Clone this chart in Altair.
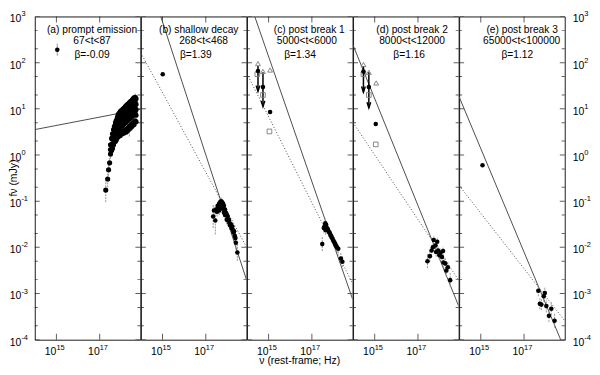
import altair as alt
import pandas as pd

FONT = "Liberation Sans"
INK = "#000000"
FRAME = "#1a1a1a"
LINE = "#4d4d4d"
ERRC = "#8a8a8a"
OPEN = "#7a7a7a"

W = 106.5
H = 326

# ---------------- axes ----------------
X_DOMAIN = [1e14, 10 ** 18.88]
Y_DOMAIN = [1e-4, 1e3]
X_TICKS = [1e15, 1e17]
X_TICK_BASE = ["10", "10"]
X_TICK_EXP = ["15", "17"]
Y_TICKS = [1e-4, 1e-3, 1e-2, 1e-1, 1e0, 1e1, 1e2, 1e3]
Y_TICK_BASE = ["10", "10", "10", "10", "10", "10", "10", "10"]
Y_TICK_EXP = ["-4", "-3", "-2", "-1", "0", "1", "2", "3"]
Y_MINOR = [2e-4, 5e-4, 2e-3, 5e-3, 2e-2, 5e-2, 0.2, 0.5, 2, 5, 20, 50, 200, 500]
X_TITLE = "ν (rest-frame; Hz)"
Y_TITLE = "fν (mJy)"

# ---------------- panel texts ----------------
PANEL_NAME = ["(a) prompt emission", "(b) shallow decay", "(c) post break 1",
              "(d) post break 2", "(e) post break 3"]
PANEL_TIME = ["67<t<87", "268<t<468", "5000<t<6000", "8000<t<12000", "65000<t<100000"]
PANEL_BETA = ["β=-0.09", "β=1.39", "β=1.34", "β=1.16", "β=1.12"]

# ---------------- model lines (log10 nu, log10 f) ----------------
SOLID_NU = [[14.0, 18.88], [14.92, 18.88], [14.36, 18.88], [14.0, 18.88], [14.0, 18.88]]
SOLID_F = [[0.55, 0.99], [3.0, -2.70], [3.0, -3.12], [2.38, -3.27], [1.26, -4.21]]
DOTTED_NU = [[], [14.0, 18.88], [14.0, 18.88], [14.0, 18.88], [14.0, 18.88]]
DOTTED_F = [[], [2.21, -1.99], [1.76, -2.78], [0.70, -2.71], [-0.66, -3.59]]

# ---------------- X-ray points (log10 nu, log10 f) ----------------
XA_NU = [17.28, 17.37, 17.41, 17.46,
         17.50, 17.50, 17.50,
         17.55, 17.55, 17.55,
         17.59, 17.59, 17.59, 17.59,
         17.64, 17.64, 17.64, 17.64,
         17.68, 17.68, 17.68, 17.68,
         17.73, 17.73, 17.73, 17.73, 17.73,
         17.77, 17.77, 17.77, 17.77, 17.77,
         17.82, 17.82, 17.82, 17.82, 17.82,
         17.86, 17.86, 17.86, 17.86, 17.86,
         17.91, 17.91, 17.91, 17.91, 17.91,
         17.95, 17.95, 17.95, 17.95, 17.95,
         18.00, 18.00, 18.00, 18.00, 18.00,
         18.05, 18.05, 18.05, 18.05, 18.05,
         18.09, 18.09, 18.09, 18.09, 18.09,
         18.14, 18.14, 18.14, 18.14, 18.14,
         18.19, 18.19, 18.19, 18.19, 18.19,
         18.23, 18.23, 18.23, 18.23, 18.23,
         18.28, 18.28, 18.28, 18.28, 18.28,
         18.32, 18.32, 18.32, 18.32, 18.32,
         18.37, 18.37, 18.37, 18.37, 18.37,
         18.41, 18.41, 18.41, 18.41, 18.41,
         18.46, 18.46, 18.46, 18.46, 18.46,
         18.50, 18.50, 18.50, 18.50, 18.50,
         18.55, 18.55, 18.55, 18.55, 18.55,
         18.59, 18.59, 18.59, 18.59, 18.59,
         18.64, 18.64, 18.64, 18.64, 18.64,
         18.68, 18.68, 18.68, 18.68, 18.68]
XA_F = [-0.76, -0.52, -0.32, -0.17,
        0.22, 0.12, 0.02,
        0.36, 0.22, 0.10,
        0.46, 0.34, 0.22, 0.14,
        0.55, 0.44, 0.33, 0.22,
        0.62, 0.52, 0.40, 0.28,
        0.70, 0.60, 0.48, 0.36, 0.30,
        0.75, 0.65, 0.55, 0.44, 0.33,
        0.82, 0.72, 0.62, 0.50, 0.38,
        0.88, 0.78, 0.66, 0.55, 0.40,
        0.91, 0.80, 0.70, 0.58, 0.45,
        0.94, 0.84, 0.72, 0.60, 0.42,
        0.96, 0.86, 0.75, 0.62, 0.48,
        0.98, 0.88, 0.76, 0.64, 0.46,
        1.00, 0.90, 0.78, 0.66, 0.52,
        1.02, 0.92, 0.80, 0.68, 0.48,
        1.05, 0.94, 0.82, 0.70, 0.55,
        1.07, 0.96, 0.84, 0.72, 0.50,
        1.09, 0.98, 0.86, 0.74, 0.58,
        1.11, 1.00, 0.88, 0.76, 0.54,
        1.13, 1.02, 0.90, 0.78, 0.62,
        1.15, 1.04, 0.92, 0.80, 0.58,
        1.17, 1.06, 0.94, 0.82, 0.66,
        1.19, 1.08, 0.96, 0.84, 0.62,
        1.22, 1.10, 0.98, 0.86, 0.70,
        1.24, 1.12, 1.00, 0.88, 0.66,
        1.25, 1.14, 1.02, 0.90, 0.74,
        1.22, 1.10, 0.98, 0.86, 0.72]
# visible error bars of panel (a): nu, low, high
XA_EB_NU = [17.28, 17.37, 17.41, 17.46, 17.50, 18.64, 18.55, 18.37]
XA_EB_LO = [-1.02, -0.70, -0.45, -0.30, -0.08, 1.10, 1.05, 0.40]
XA_EB_HI = [-0.55, -0.38, -0.20, -0.05, 0.30, 1.33, 1.30, 1.20]

XB_NU = [17.34, 17.38, 17.44, 17.48, 17.52, 17.55, 17.58, 17.62, 17.62, 17.67, 17.67,
         17.71, 17.71, 17.74, 17.76, 17.80, 17.80, 17.84, 17.84, 17.89, 17.89, 17.93,
         17.97, 17.97, 18.01, 18.03, 18.07, 18.10, 18.12, 18.16, 18.19, 18.22, 18.25,
         18.28, 18.31, 18.34, 18.37, 18.39, 18.46]
XB_F = [-1.33, -1.20, -1.42, -1.18, -1.23, -1.10, -1.12, -1.05, -1.20, -1.02, -1.14,
        -1.00, -1.10, -1.02, -1.16, -1.05, -1.16, -1.10, -1.25, -1.18, -1.30, -1.25,
        -1.29, -1.40, -1.33, -1.42, -1.40, -1.48, -1.52, -1.50, -1.58, -1.55, -1.62,
        -1.68, -1.65, -1.75, -1.80, -1.90, -2.11]
XB_ERR = [0.25, 0.10, 0.30, 0.10, 0.10, 0.08, 0.08, 0.08, 0.10, 0.08, 0.08,
          0.08, 0.08, 0.08, 0.08, 0.08, 0.08, 0.08, 0.10, 0.08, 0.10, 0.08,
          0.08, 0.10, 0.08, 0.10, 0.10, 0.10, 0.10, 0.10, 0.10, 0.10, 0.10,
          0.12, 0.12, 0.12, 0.12, 0.15, 0.18]

XC_NU = [17.48, 17.55, 17.59, 17.62, 17.64, 17.66, 17.70, 17.74, 17.78, 17.82, 17.85,
         17.89, 17.92, 17.96, 18.00, 18.04, 18.08, 18.11, 18.16, 18.22, 18.34, 18.41]
XC_F = [-1.93, -1.58, -1.54, -1.48, -1.63, -1.51, -1.58, -1.61, -1.66, -1.68, -1.72,
        -1.75, -1.78, -1.82, -1.86, -1.89, -1.93, -1.96, -2.00, -2.03, -2.24, -2.31]
XC_ERR = [0.15, 0.10, 0.10, 0.10, 0.10, 0.08, 0.08, 0.08, 0.08, 0.08, 0.08,
          0.08, 0.08, 0.08, 0.08, 0.10, 0.10, 0.10, 0.10, 0.10, 0.12, 0.12]

XD_NU = [17.44, 17.55, 17.63, 17.69, 17.73, 17.89, 17.81, 17.84, 17.93, 17.99, 18.04,
         18.11, 18.16, 18.18, 18.26, 18.31, 18.38, 18.49]
XD_F = [-2.30, -2.19, -2.07, -2.00, -1.84, -1.88, -1.96, -2.10, -2.07, -2.17, -2.12,
        -2.21, -2.08, -2.33, -2.35, -2.50, -2.43, -2.71]
XD_ERR = [0.15, 0.12, 0.12, 0.10, 0.10, 0.10, 0.10, 0.10, 0.10, 0.10, 0.10,
          0.12, 0.10, 0.12, 0.12, 0.14, 0.12, 0.15]

XE_NU = [17.66, 17.73, 17.80, 17.91, 17.96, 18.03, 18.15, 18.26, 18.41]
XE_F = [-2.94, -3.22, -3.24, -3.06, -2.99, -3.27, -3.48, -3.33, -3.59]
XE_ERR = [0.12, 0.12, 0.12, 0.12, 0.12, 0.14, 0.14, 0.14, 0.15]

XR_NU = [XA_NU, XB_NU, XC_NU, XD_NU, XE_NU]
XR_F = [XA_F, XB_F, XC_F, XD_F, XE_F]
XR_ERR = [[], XB_ERR, XC_ERR, XD_ERR, XE_ERR]

# legend key of panel (a): point with error bar
KEY_NU = [15.04]
KEY_F = [2.28]
KEY_ERR = [0.13]

# ---------------- optical / UV points ----------------
CIRC_NU = [[], [15.01], [14.51, 14.74, 15.07], [14.48, 14.73, 15.05], [15.08]]
CIRC_F = [[], [1.75], [1.82, 1.47, 0.93], [1.81, 1.47, 0.67], [-0.22]]
TRI_NU = [[], [], [14.51, 14.74, 15.07], [14.48, 14.73, 15.07], []]
TRI_F = [[], [], [1.98, 1.81, 1.84], [1.96, 1.79, 1.56], []]
SQ_NU = [[], [], [14.48, 14.74, 15.04], [14.48, 14.73, 15.05], []]
SQ_F = [[], [], [1.75, 1.30, 0.51], [1.75, 1.30, 0.23], []]
UL_NU = [[], [], [14.51, 14.74], [14.48, 14.73], []]
UL_TOP = [[], [], [1.93, 1.79], [1.93, 1.79], []]
UL_BOT = [[], [], [1.38, 1.05], [1.36, 1.02], []]

# ---------------- layout of panel texts (pixels, reference scale) ----------------
REF_W, REF_H = 108.4, 333.0
TEXT_X = [[58.8, 58.8, 58.8], [59.4, 64.4, 56.4], [64.0, 61.5, 54.5],
          [60.6, 60.6, 57.6], [64.7, 64.2, 59.7]]
TEXT_Y = [13.8, 25.2, 39.5]

xs = alt.Scale(type="log", domain=X_DOMAIN, nice=False)
ys = alt.Scale(type="log", domain=Y_DOMAIN, nice=False)
ONE = pd.DataFrame({"k": [0]})


def X(field):
    return alt.X(f"{field}:Q", scale=xs, axis=None)


def Y(field):
    return alt.Y(f"{field}:Q", scale=ys, axis=None)


def p10(vals):
    return [10.0 ** v for v in vals]


def txt(**kw):
    base = dict(font=FONT, color=INK)
    base.update(kw)
    return base


def panel(i):
    L = []
    # frame ticks (inward, both sides)
    ymaj = pd.DataFrame({"v": Y_TICKS, "base": Y_TICK_BASE, "exp": Y_TICK_EXP})
    ymin = pd.DataFrame({"v": Y_MINOR})
    for df, size in ((ymaj, 10), (ymin, 6)):
        for xpos in (0, W):
            L.append(alt.Chart(df).mark_tick(orient="horizontal", size=size, thickness=1,
                                             color=FRAME, clip=True)
                     .encode(y=Y("v"), x=alt.value(xpos)))
    xt = pd.DataFrame({"v": X_TICKS, "base": X_TICK_BASE, "exp": X_TICK_EXP})
    for ypos in (0, H):
        L.append(alt.Chart(xt).mark_tick(orient="vertical", size=12, thickness=1,
                                         color=FRAME, clip=True)
                 .encode(x=X("v"), y=alt.value(ypos)))

    # model lines
    sdf = pd.DataFrame({"nu": p10(SOLID_NU[i]), "f": p10(SOLID_F[i])})
    L.append(alt.Chart(sdf).mark_line(color=LINE, strokeWidth=1, clip=True)
             .encode(x=X("nu"), y=Y("f")))
    if DOTTED_NU[i]:
        ddf = pd.DataFrame({"nu": p10(DOTTED_NU[i]), "f": p10(DOTTED_F[i])})
        L.append(alt.Chart(ddf).mark_line(color=LINE, strokeWidth=1, strokeDash=[1, 2],
                                          clip=True)
                 .encode(x=X("nu"), y=Y("f")))

    # error bars
    if i == 0:
        eb = pd.DataFrame({"nu": p10(XA_EB_NU), "lo": p10(XA_EB_LO), "hi": p10(XA_EB_HI)})
    else:
        eb = pd.DataFrame({
            "nu": p10(XR_NU[i]),
            "lo": [10.0 ** (f - e) for f, e in zip(XR_F[i], XR_ERR[i])],
            "hi": [10.0 ** (f + e) for f, e in zip(XR_F[i], XR_ERR[i])],
        })
    L.append(alt.Chart(eb).mark_rule(color=ERRC, strokeWidth=0.9, strokeDash=[2, 1],
                                     clip=True)
             .encode(x=X("nu"), y=Y("lo"), y2="hi:Q"))

    # X-ray points
    xr = pd.DataFrame({"nu": p10(XR_NU[i]), "f": p10(XR_F[i])})
    L.append(alt.Chart(xr).mark_circle(color=INK, size=27 if i == 0 else 21, opacity=1,
                                       clip=True)
             .encode(x=X("nu"), y=Y("f")))

    if i == 0:
        kdf = pd.DataFrame({"nu": p10(KEY_NU), "f": p10(KEY_F),
                            "lo": [10.0 ** (f - e) for f, e in zip(KEY_F, KEY_ERR)],
                            "hi": [10.0 ** (f + e) for f, e in zip(KEY_F, KEY_ERR)]})
        L.append(alt.Chart(kdf).mark_rule(color=ERRC, strokeWidth=0.9)
                 .encode(x=X("nu"), y=Y("lo"), y2="hi:Q"))
        L.append(alt.Chart(kdf).mark_circle(color=INK, size=21, opacity=1)
                 .encode(x=X("nu"), y=Y("f")))

    # optical / UV
    if UL_NU[i]:
        ul = pd.DataFrame({"nu": p10(UL_NU[i]), "top": p10(UL_TOP[i]), "bot": p10(UL_BOT[i])})
        L.append(alt.Chart(ul).mark_rule(color=INK, strokeWidth=1.5, clip=True)
                 .encode(x=X("nu"), y=Y("top"), y2="bot:Q"))
        L.append(alt.Chart(ul).mark_point(shape="M-0.55,-1.7L0,0L0.55,-1.7", size=45,
                                          filled=False, color=INK, strokeWidth=1.5,
                                          opacity=1, clip=True)
                 .encode(x=X("nu"), y=Y("bot")))
    if TRI_NU[i]:
        tri = pd.DataFrame({"nu": p10(TRI_NU[i]), "f": p10(TRI_F[i])})
        L.append(alt.Chart(tri).mark_point(shape="triangle-up", size=24, filled=False,
                                           color=OPEN, strokeWidth=0.9, opacity=1, clip=True)
                 .encode(x=X("nu"), y=Y("f")))
    if SQ_NU[i]:
        sq = pd.DataFrame({"nu": p10(SQ_NU[i]), "f": p10(SQ_F[i])})
        L.append(alt.Chart(sq).mark_point(shape="square", size=22, filled=False,
                                          color=OPEN, strokeWidth=0.9, opacity=1, clip=True)
                 .encode(x=X("nu"), y=Y("f")))
    if CIRC_NU[i]:
        cc = pd.DataFrame({"nu": p10(CIRC_NU[i]), "f": p10(CIRC_F[i])})
        L.append(alt.Chart(cc).mark_circle(color=INK, size=21, opacity=1, clip=True)
                 .encode(x=X("nu"), y=Y("f")))

    # panel texts
    for t, px, py in zip([PANEL_NAME[i], PANEL_TIME[i], PANEL_BETA[i]], TEXT_X[i], TEXT_Y):
        L.append(alt.Chart(ONE).mark_text(**txt(fontSize=10.3, align="center",
                                                baseline="middle"))
                 .encode(x=alt.value(px * W / REF_W), y=alt.value(py * H / REF_H),
                         text=alt.value(t)))

    # tick labels: "10" with a raised exponent, placed through the scales
    L.append(alt.Chart(xt).mark_text(**txt(fontSize=10.5, align="right", baseline="top"))
             .encode(x=X("v"), y=alt.value(H + 7), text="base:N"))
    L.append(alt.Chart(xt).mark_text(**txt(fontSize=7.5, align="left", baseline="top"))
             .encode(x=X("v"), y=alt.value(H + 4), text="exp:N"))
    if i == 0:
        L.append(alt.Chart(ymaj).mark_text(**txt(fontSize=10.5, align="right",
                                                 baseline="middle", dy=3))
                 .encode(y=Y("v"), x=alt.value(-13.5), text="base:N"))
        L.append(alt.Chart(ymaj).mark_text(**txt(fontSize=7.5, align="left",
                                                 baseline="middle", dy=-2))
                 .encode(y=Y("v"), x=alt.value(-13.5), text="exp:N"))
        L.append(alt.Chart(ONE).mark_text(**txt(fontSize=10.5, align="center",
                                                baseline="middle", angle=270))
                 .encode(x=alt.value(-21), y=alt.value(H / 2), text=alt.value(Y_TITLE)))
    if i == 4:
        L.append(alt.Chart(ymaj).mark_text(**txt(fontSize=10.5, align="left",
                                                 baseline="middle", dy=3))
                 .encode(y=Y("v"), x=alt.value(W + 8), text="base:N"))
        L.append(alt.Chart(ymaj).mark_text(**txt(fontSize=7.5, align="left",
                                                 baseline="middle", dy=-2))
                 .encode(y=Y("v"), x=alt.value(W + 19.7), text="exp:N"))
    if i == 2:
        L.append(alt.Chart(ONE).mark_text(**txt(fontSize=10.5, align="center",
                                                baseline="middle"))
                 .encode(x=alt.value(W / 2), y=alt.value(H + 22), text=alt.value(X_TITLE)))

    return alt.layer(*L).properties(width=W, height=H)


chart = (alt.hconcat(*[panel(i) for i in range(5)], spacing=0, bounds="flush")
         .properties(padding={"left": 0, "right": 0, "top": 0, "bottom": 0},
                     background="white")
         .configure_view(stroke=FRAME, strokeWidth=1))

chart.save("out.html", embed_options={"renderer": "svg", "actions": False})
